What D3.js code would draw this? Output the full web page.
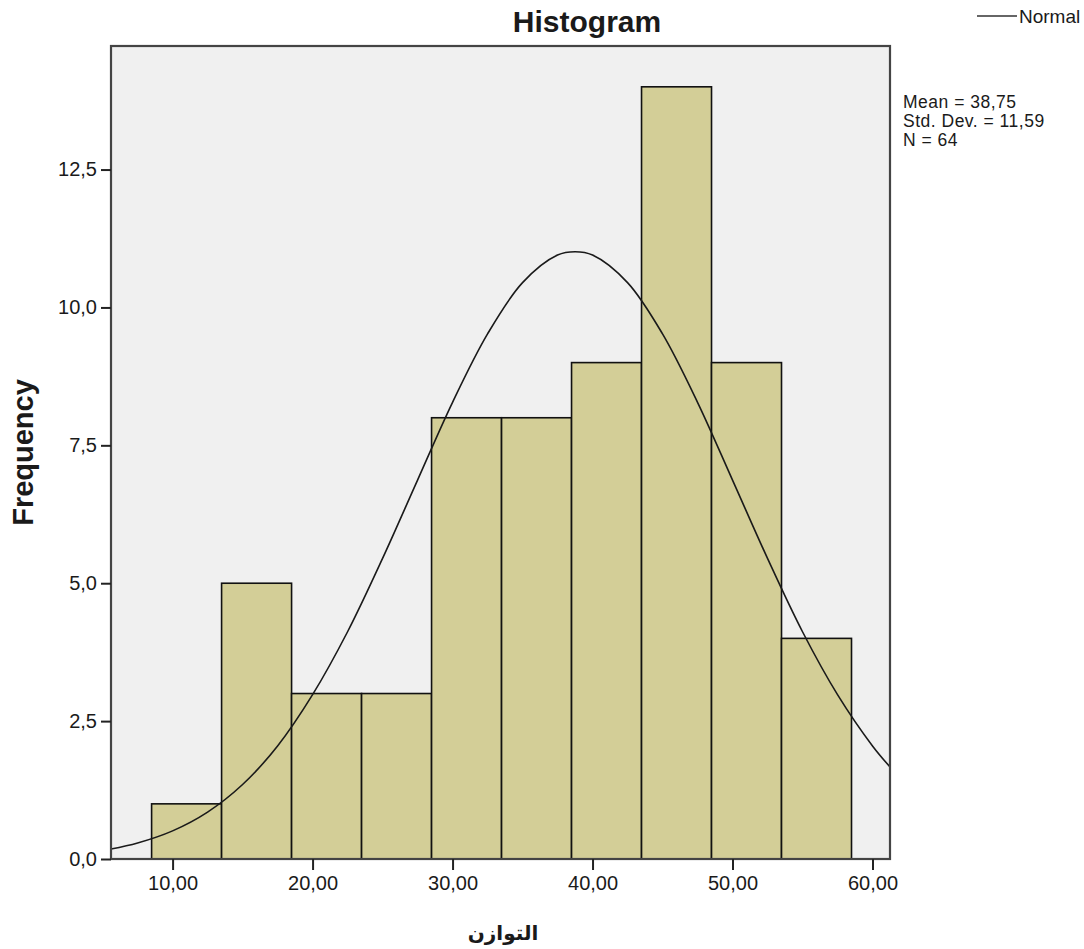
<!DOCTYPE html>
<html>
<head>
<meta charset="utf-8">
<script src="https://d3js.org/d3.v7.min.js"></script>
<style>
  body { margin: 0; background: #fff; }
  text { font-family: "Liberation Sans", Arial, sans-serif; fill: #1a1a1a; }
</style>
</head>
<body>
<div id="chart"></div>
<script>
// bin edges (lower bound of each bin) and counts
const binStarts = [8.5, 13.5, 18.5, 23.5, 28.5, 33.5, 38.5, 43.5, 48.5, 53.5];
const binCounts = [1, 5, 3, 3, 8, 8, 9, 14, 9, 4];
const binWidth = 5;

// normal curve
const curveX = [5.6, 7.5, 10, 12.5, 15, 17.5, 20, 22.5, 25, 27.5, 30, 32.5, 35, 37.5, 38.75,
                40, 42.5, 45, 47.5, 50, 52.5, 55, 57.5, 60, 61.25];
const curveY = [0.18, 0.29, 0.51, 0.85, 1.35, 2.05, 2.98, 4.12, 5.45, 6.87, 8.28, 9.52, 10.45, 10.95, 11.01,
                10.95, 10.45, 9.52, 8.28, 6.87, 5.45, 4.12, 2.98, 2.05, 1.67];

const xTicks = [10, 20, 30, 40, 50, 60];
const yTicks = [0, 2.5, 5, 7.5, 10, 12.5];
const statLines = ["Mean = 38,75", "Std. Dev. = 11,59", "N = 64"];

const width = 1084, height = 949;
const margin = { left: 111, top: 46, right: 194, bottom: 90 };
const plotW = width - margin.left - margin.right;
const plotH = height - margin.top - margin.bottom;

const svg = d3.select("#chart").append("svg")
    .attr("width", width)
    .attr("height", height);

const x = d3.scaleLinear().domain([5.6, 61.25]).range([0, plotW]);
const y = d3.scaleLinear().domain([0, 14.74]).range([plotH, 0]);

const g = svg.append("g").attr("transform", `translate(${margin.left},${margin.top})`);

// plot background
g.append("rect")
    .attr("width", plotW)
    .attr("height", plotH)
    .attr("fill", "#f0f0f0");

// bars
g.selectAll("rect.bar")
    .data(binStarts)
    .enter()
    .append("rect")
    .attr("class", "bar")
    .attr("x", d => x(d))
    .attr("width", d => x(d + binWidth) - x(d))
    .attr("y", (d, i) => y(binCounts[i]))
    .attr("height", (d, i) => plotH - y(binCounts[i]))
    .attr("fill", "#d3ce97")
    .attr("stroke", "#111")
    .attr("stroke-width", 1.6);

// normal curve
const line = d3.line()
    .x(d => x(d[0]))
    .y(d => y(d[1]))
    .curve(d3.curveCatmullRom);

g.append("path")
    .datum(curveX.map((v, i) => [v, curveY[i]]))
    .attr("d", line)
    .attr("fill", "none")
    .attr("stroke", "#1a1a1a")
    .attr("stroke-width", 1.6);

// frame
g.append("rect")
    .attr("width", plotW)
    .attr("height", plotH)
    .attr("fill", "none")
    .attr("stroke", "#444")
    .attr("stroke-width", 2.2);

// axes
const fmtY = d => d3.format(".1f")(d).replace(".", ",");
const fmtX = d => d3.format(".2f")(d).replace(".", ",");

const yAxis = g.append("g")
    .call(d3.axisLeft(y).tickValues(yTicks).tickFormat(fmtY).tickSize(10).tickPadding(4));
yAxis.select(".domain").remove();
yAxis.selectAll("line").attr("stroke", "#222").attr("stroke-width", 2);
yAxis.selectAll("text").attr("font-size", 20).attr("font-family", "Liberation Sans, Arial, sans-serif").attr("fill", "#1a1a1a");

const xAxis = g.append("g")
    .attr("transform", `translate(0,${plotH})`)
    .call(d3.axisBottom(x).tickValues(xTicks).tickFormat(fmtX).tickSize(11).tickPadding(6));
xAxis.select(".domain").remove();
xAxis.selectAll("line").attr("stroke", "#222").attr("stroke-width", 2);
xAxis.selectAll("text").attr("font-size", 20).attr("font-family", "Liberation Sans, Arial, sans-serif").attr("fill", "#1a1a1a");

// title
svg.append("text")
    .attr("x", 587)
    .attr("y", 32)
    .attr("text-anchor", "middle")
    .attr("font-size", 30)
    .attr("font-weight", "bold")
    .text("Histogram");

// y label
svg.append("text")
    .attr("transform", `translate(33,${margin.top + plotH / 2}) rotate(-90)`)
    .attr("text-anchor", "middle")
    .attr("font-size", 29)
    .attr("font-weight", "bold")
    .text("Frequency");

// x label
svg.append("text")
    .attr("x", 503)
    .attr("y", 940)
    .attr("text-anchor", "middle")
    .attr("font-size", 20)
    .attr("font-weight", "bold")
    .style("font-family", "'DejaVu Sans', sans-serif")
    .text("التوازن");

// legend
svg.append("line")
    .attr("x1", 977).attr("x2", 1017)
    .attr("y1", 16).attr("y2", 16)
    .attr("stroke", "#333")
    .attr("stroke-width", 1.6);
svg.append("text")
    .attr("x", 1019)
    .attr("y", 23)
    .attr("font-size", 19)
    .text("Normal");

// stats
svg.append("g")
    .selectAll("text")
    .data(statLines)
    .enter()
    .append("text")
    .attr("x", 903)
    .attr("y", (d, i) => 108 + i * 19)
    .attr("font-size", 17.5)
    .attr("letter-spacing", 0.5)
    .text(d => d);
</script>
</body>
</html>
